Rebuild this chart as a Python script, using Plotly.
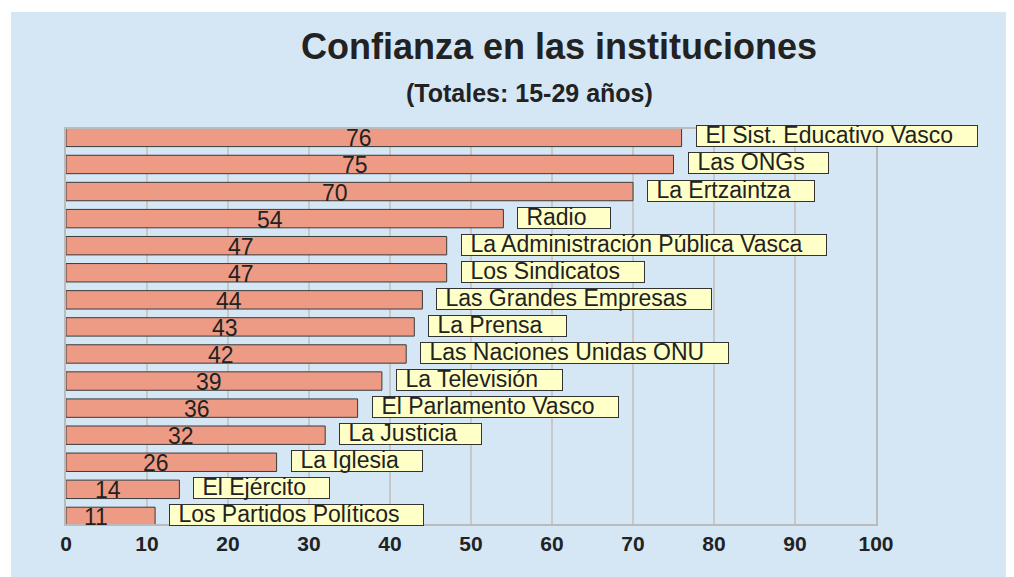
import plotly.graph_objects as go

institutions = [
    "El Sist. Educativo Vasco", "Las ONGs", "La Ertzaintza", "Radio",
    "La Administración Pública Vasca", "Los Sindicatos", "Las Grandes Empresas",
    "La Prensa", "Las Naciones Unidas ONU", "La Televisión", "El Parlamento Vasco",
    "La Justicia", "La Iglesia", "El Ejército", "Los Partidos Políticos",
]
values = [76, 75, 70, 54, 47, 47, 44, 43, 42, 39, 36, 32, 26, 14, 11]
x_ticks = [0, 10, 20, 30, 40, 50, 60, 70, 80, 90, 100]

title_text = "Confianza en las instituciones"
subtitle_text = "(Totales: 15-29 años)"

BLUE = "#D5E7F5"
SALMON = "#EE9B86"
YELLOW = "#FFFFC8"
DARK = "#222222"
FONT = "Liberation Sans, Arial, sans-serif"

# page has an 8px body margin: figure is drawn at (8, 8)
W, H = 1006, 569
L, R, T, B = 58, 138, 121, 53
PW, PH = W - L - R, H - T - B

fig = go.Figure()
fig.add_trace(go.Bar(
    x=values, y=institutions, orientation="h",
    marker=dict(color=SALMON, line=dict(color="#3A3A3A", width=1)),
    width=0.68, hoverinfo="skip",
))

annotations = []
NB = "\u00a0"
for name, v in zip(institutions, values):
    label = NB + name + NB * 4
    # value inside bar
    annotations.append(dict(
        x=v / 2, y=name, xref="x", yref="y", text=str(v), showarrow=False,
        xanchor="center", yanchor="middle", xshift=-15, yshift=-1,
        font=dict(family=FONT, size=23, color=DARK),
    ))
    # yellow box (text invisible, only sizes the box)
    annotations.append(dict(
        x=v, y=name, xref="x", yref="y", text=label, showarrow=False,
        xanchor="left", yanchor="middle", xshift=14, yshift=1,
        font=dict(family=FONT, size=23, color="rgba(0,0,0,0)"),
        bgcolor=YELLOW, bordercolor="#333333", borderwidth=1, borderpad=0,
        height=20, align="left", valign="middle",
    ))
    # label text
    annotations.append(dict(
        x=v, y=name, xref="x", yref="y", text=label, showarrow=False,
        xanchor="left", yanchor="middle", xshift=15, yshift=2,
        font=dict(family=FONT, size=23, color=DARK), align="left",
    ))

annotations.append(dict(
    x=(521.5 - L) / PW, y=(T + PH - 85) / PH, xref="paper", yref="paper",
    text="<b>" + subtitle_text + "</b>",
    showarrow=False, xanchor="center", yanchor="middle",
    font=dict(family=FONT, size=25, color=DARK),
))

fig.update_layout(
    width=W, height=H,
    margin=dict(l=L, r=R, t=T, b=B),
    paper_bgcolor="white", plot_bgcolor="white",
    showlegend=False,
    title=dict(text="<b>" + title_text + "</b>", x=551 / W, y=1 - 38.5 / H,
               xref="container", yref="container", xanchor="center", yanchor="middle",
               font=dict(family=FONT, size=36, color=DARK)),
    xaxis=dict(range=[0, 100], tickvals=x_ticks, showgrid=True, gridcolor="#C8C8C8",
               gridwidth=1.5, zeroline=False, showline=True, mirror=True,
               linecolor="#BBBBBB", linewidth=2, ticks="", ticklabelstandoff=0,
               tickfont=dict(family=FONT, size=21, color=DARK, weight="bold"),
               fixedrange=True),
    yaxis=dict(categoryorder="array", categoryarray=institutions,
               range=[14.28, -0.31], showticklabels=False, showgrid=False,
               zeroline=False, showline=True, mirror=True, linecolor="#BBBBBB",
               linewidth=2, ticks="", fixedrange=True),
    annotations=annotations,
    shapes=[dict(type="rect", xref="paper", yref="paper",
                 x0=(3 - L) / PW, x1=1.3, y0=-0.3, y1=(T + PH - 4) / PH,
                 fillcolor=BLUE, line=dict(width=0), layer="below")],
)

fig.write_html("out.html")
